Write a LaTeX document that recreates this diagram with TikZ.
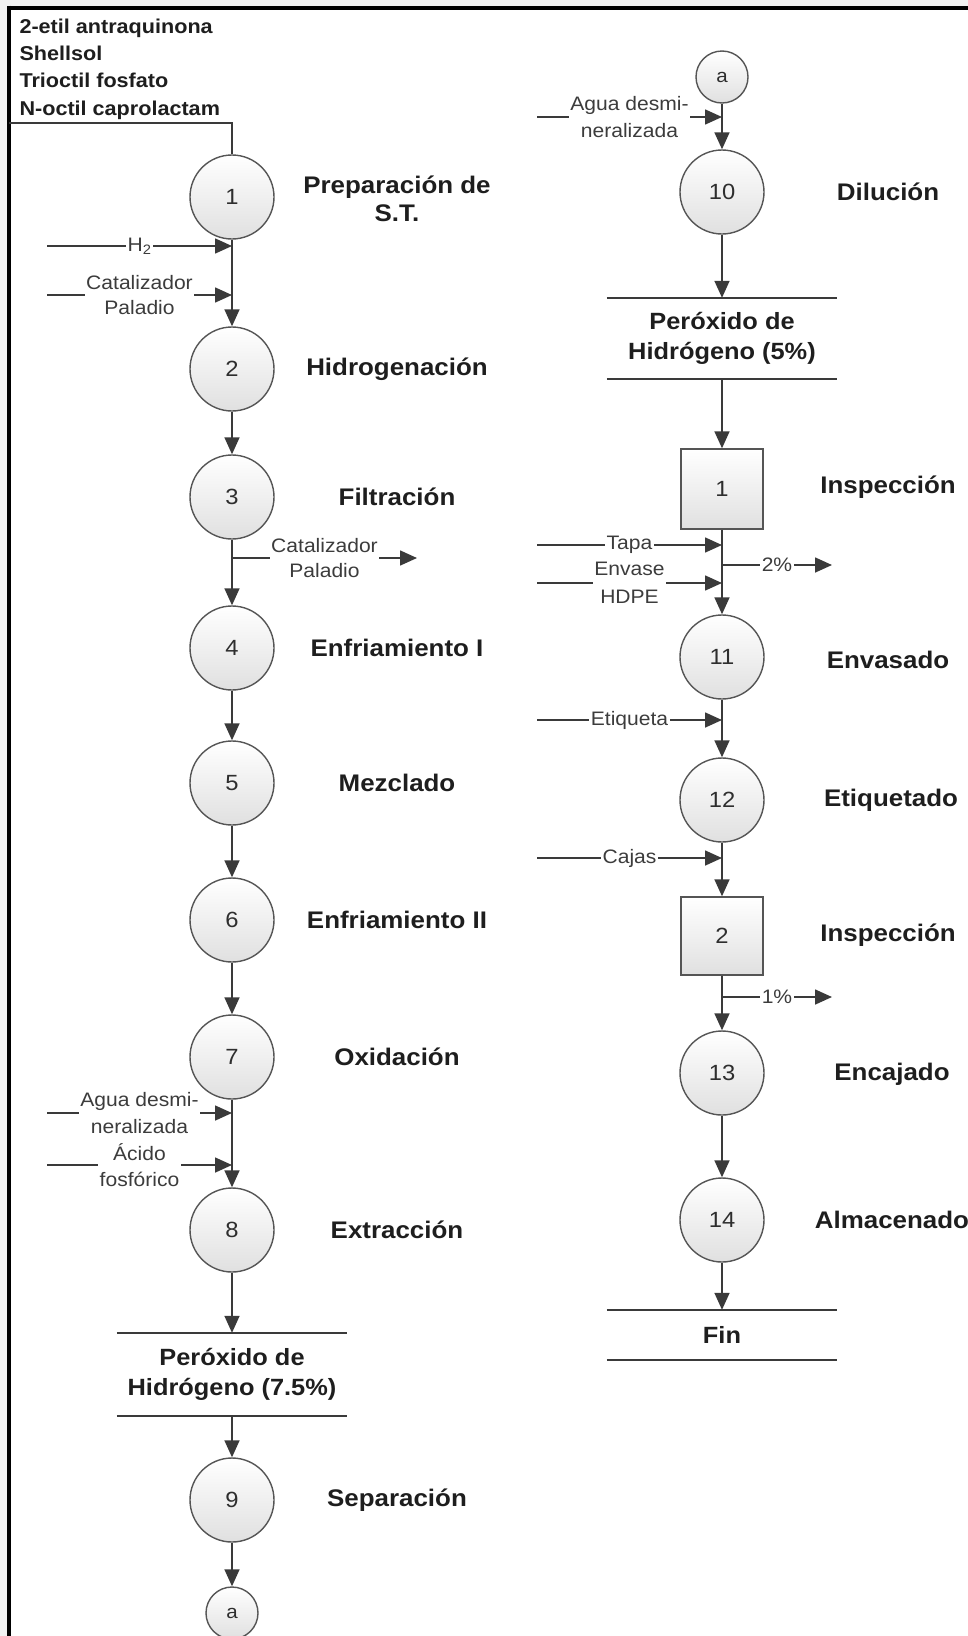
\documentclass[tikz,border=0pt]{standalone}
\usepackage{fontspec}
\setmainfont{Liberation Sans}[FakeStretch=1.08]
\usetikzlibrary{arrows.meta}

\definecolor{ink}{HTML}{3A3A3A}
\definecolor{rim}{HTML}{555555}
\definecolor{page}{HTML}{F2F2F2}
\definecolor{bulb}{HTML}{E0E0E0}
\definecolor{txt}{HTML}{1E1E1E}
\definecolor{soft}{HTML}{3C3C3C}
\definecolor{digit}{HTML}{2E2E2E}

\begin{document}
\begin{tikzpicture}[x=1pt,y=-1pt,
  proc/.style={circle, draw=rim, line width=1.4pt, minimum size=84pt, inner sep=0pt,
    top color=white, bottom color=bulb, text=digit, font=\fontsize{22}{24}\selectfont},
  link/.style={proc, minimum size=52pt, font=\fontsize{19}{22}\selectfont},
  insp/.style={rectangle, draw=rim, line width=1.4pt, minimum width=82pt, minimum height=80pt,
    inner sep=0pt, top color=white, bottom color=bulb, text=digit, font=\fontsize{22}{24}\selectfont},
  stage/.style={text=txt, align=center, font=\bfseries\fontsize{24}{28}\selectfont},
  tag/.style={fill=white, inner sep=1.5pt, text=soft, align=center, font=\fontsize{19.5}{26}\selectfont},
  flow/.style={draw=ink, line width=1.6pt, -{Triangle[length=17pt,width=15pt]}},
  plain/.style={draw=ink, line width=1.6pt},
  store/.style={minimum width=230pt, inner sep=0pt, text=txt, align=center,
    font=\bfseries\fontsize{23.5}{30.5}\selectfont},
]
% page, frame
\useasboundingbox (0,0) rectangle (968,1636);
\fill[page] (0,0) rectangle (968,1636);
\fill[white] (9,7.5) rectangle (968,1636);
\draw[line width=4pt] (7,7.5) -- (968,7.5);
\draw[line width=3.5pt] (9,5.5) -- (9,1636);

% ---------------- left column ----------------
\node[anchor=west, align=left, text=txt, font=\bfseries\fontsize{20}{27.3}\selectfont]
  (feedtxt) at (16,69) {2-etil antraquinona\\Shellsol\\Trioctil fosfato\\N-octil caprolactam};

\node[proc] (p1) at (232,197) {1};
\node[proc] (p2) at (232,369) {2};
\node[proc] (p3) at (232,497) {3};
\node[proc] (p4) at (232,648) {4};
\node[proc] (p5) at (232,783) {5};
\node[proc] (p6) at (232,920) {6};
\node[proc] (p7) at (232,1057) {7};
\node[proc] (p8) at (232,1230) {8};
\node[store, minimum height=83pt] (s1) at (232,1374.5) {Peróxido de\\Hidrógeno (7.5\%)};
\node[proc] (p9) at (232,1500) {9};
\node[link] (aL) at (232,1613) {a};

\node[stage] (l1) at (397,199) {Preparación de\\S.T.};
\node[stage] (l2) at (397,369) {Hidrogenación};
\node[stage] (l3) at (397,497) {Filtración};
\node[stage] (l4) at (397,648) {Enfriamiento I};
\node[stage] (l5) at (397,783) {Mezclado};
\node[stage] (l6) at (397,920) {Enfriamiento II};
\node[stage] (l7) at (397,1057) {Oxidación};
\node[stage] (l8) at (397,1230) {Extracción};
\node[stage] (l9) at (397,1500) {Separación};

\draw[plain] (s1.north west) -- (s1.north east) (s1.south west) -- (s1.south east);

\coordinate (feed) at (9,123);
\draw[plain] (feed) -| (p1.north);
\draw[flow] (p1) -- (p2);
\draw[flow] (p2) -- (p3);
\draw[flow] (p3) -- (p4);
\draw[flow] (p4) -- (p5);
\draw[flow] (p5) -- (p6);
\draw[flow] (p6) -- (p7);
\draw[flow] (p7) -- (p8);
\draw[flow] (p8) -- (s1.north);
\draw[flow] (s1.south) -- (p9);
\draw[flow] (p9) -- (aL);

% side streams, left
\coordinate (h2a) at (47,246);   \coordinate (h2b) at (232,246);
\coordinate (cata) at (47,295);  \coordinate (catb) at (232,295);
\coordinate (outa) at (232,558); \coordinate (outb) at (417,558);
\coordinate (wata) at (47,1113); \coordinate (watb) at (232,1113);
\coordinate (acia) at (47,1165); \coordinate (acib) at (232,1165);
\draw[flow] (h2a) -- node[tag] {H\textsubscript{2}} (h2b);
\draw[flow] (cata) -- node[tag, font=\fontsize{19.5}{25}\selectfont] {Catalizador\\Paladio} (catb);
\draw[flow] (outa) -- node[tag, font=\fontsize{19.5}{25}\selectfont] {Catalizador\\Paladio} (outb);
\draw[flow] (wata) -- node[tag, font=\fontsize{19.5}{27}\selectfont] {Agua desmi-\\neralizada} (watb);
\draw[flow] (acia) -- node[tag, font=\fontsize{19.5}{26}\selectfont] {Ácido\\fosfórico} (acib);

% ---------------- right column ----------------
\node[link] (aR) at (722,77) {a};
\node[proc] (p10) at (722,192) {10};
\node[store, minimum height=81pt] (s2) at (722,338.5) {Peróxido de\\Hidrógeno (5\%)};
\node[insp] (i1) at (722,489) {1};
\node[proc] (p11) at (722,657) {11};
\node[proc] (p12) at (722,800) {12};
\node[insp, minimum height=78pt] (i2) at (722,936) {2};
\node[proc] (p13) at (722,1073) {13};
\node[proc] (p14) at (722,1220) {14};
\node[store, minimum height=50pt] (fin) at (722,1335) {Fin};

\node[stage] (r10) at (888,192) {Dilución};
\node[stage] (ri1) at (888,487) {Inspección};
\node[stage] (r11) at (888,660) {Envasado};
\node[stage] (r12) at (891,800) {Etiquetado};
\node[stage] (ri2) at (888,935) {Inspección};
\node[stage] (r13) at (892,1074) {Encajado};
\node[stage] (r14) at (892,1220) {Almacenado};

\draw[plain] (s2.north west) -- (s2.north east) (s2.south west) -- (s2.south east);
\draw[plain] (fin.north west) -- (fin.north east) (fin.south west) -- (fin.south east);

\draw[flow] (aR) -- (p10);
\draw[flow] (p10) -- (s2.north);
\draw[flow] (s2.south) -- (i1);
\draw[flow] (i1) -- (p11);
\draw[flow] (p11) -- (p12);
\draw[flow] (p12) -- (i2);
\draw[flow] (i2) -- (p13);
\draw[flow] (p13) -- (p14);
\draw[flow] (p14) -- (fin.north);

% side streams, right
\coordinate (dwa) at (537,117);  \coordinate (dwb) at (722,117);
\coordinate (tpa) at (537,545);  \coordinate (tpb) at (722,545);
\coordinate (rj1a) at (722,565); \coordinate (rj1b) at (832,565);
\coordinate (hda) at (537,583);  \coordinate (hdb) at (722,583);
\coordinate (eta) at (537,720);  \coordinate (etb) at (722,720);
\coordinate (cja) at (537,858);  \coordinate (cjb) at (722,858);
\coordinate (rj2a) at (722,997); \coordinate (rj2b) at (832,997);
\draw[flow] (dwa) -- node[tag, font=\fontsize{19.5}{27}\selectfont] {Agua desmi-\\neralizada} (dwb);
\draw[flow] (tpa) -- node[tag] {Tapa} (tpb);
\draw[flow] (rj1a) -- node[tag] {2\%} (rj1b);
\draw[flow] (hda) -- node[tag, font=\fontsize{19.5}{28}\selectfont] {Envase\\HDPE} (hdb);
\draw[flow] (eta) -- node[tag] {Etiqueta} (etb);
\draw[flow] (cja) -- node[tag] {Cajas} (cjb);
\draw[flow] (rj2a) -- node[tag] {1\%} (rj2b);
\end{tikzpicture}
\end{document}
